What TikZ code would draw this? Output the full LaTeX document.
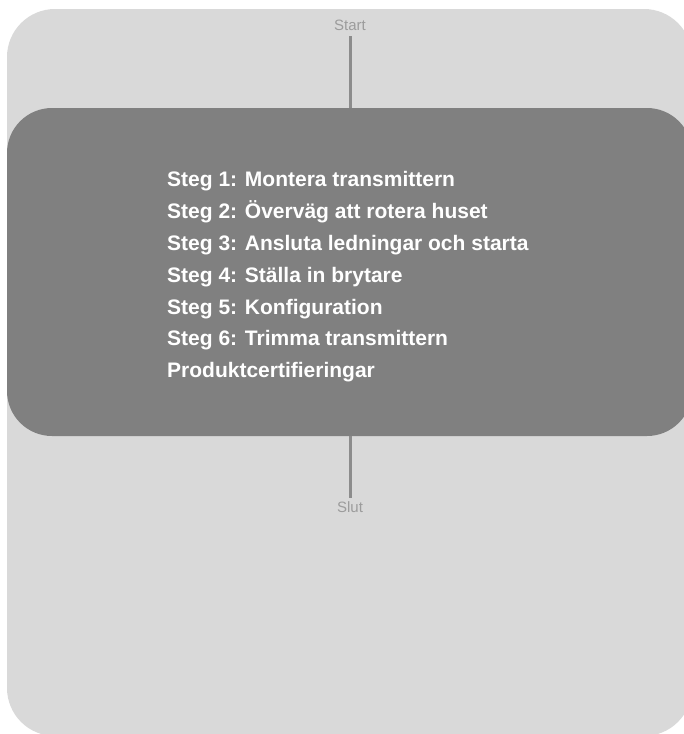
\documentclass[tikz,border=0pt]{standalone}
\usepackage{fontspec}
\setmainfont{Liberation Sans}
\usepackage{tikz}
\definecolor{panel_gray}{HTML}{D9D9D9}
\definecolor{box_gray}{HTML}{808080}
\definecolor{line_gray}{HTML}{8C8C8C}
\definecolor{label_gray}{HTML}{9C9C9C}
\tikzset{
	node_label/.style = {
		inner sep=0pt,
		anchor=base,
		text=label_gray,
		font=\fontsize{15}{18}\selectfont
	},
	node_box/.style = {
		rectangle,
		rounded corners=45pt,
		fill=box_gray,
		minimum width=685pt,
		minimum height=328pt,
		inner sep=0pt
	},
	node_list/.style = {
		align=left,
		inner sep=0pt,
		anchor=west,
		text=white,
		font=\fontsize{21}{31.8}\selectfont\bfseries
	},
	edge_line/.style = {
		draw=line_gray,
		line width=3pt
	},
}

\begin{document}
\begin{tikzpicture}[x=1pt,y=-1pt]
\useasboundingbox (0,0) rectangle (684,734);
% background panel
\fill [panel_gray, rounded corners=48pt] (7,9) rectangle (692,736);

\node [node_box] (steps) at (349.5,272) {};
\node [node_list] (list) at (167,277) {
	Steg 1: Montera transmittern\\
	Steg 2: Överväg att rotera huset\\
	Steg 3: Ansluta ledningar och starta\\
	Steg 4: Ställa in brytare\\
	Steg 5: Konfiguration\\
	Steg 6: Trimma transmittern\\
	Produktcertifieringar
};

\node [node_label] (start) at (350,30) {Start};
\node [node_label] (slut) at (350,512) {Slut};

\draw [edge_line, shorten <=6pt] (start.south) -- (start.south |- steps.north);
\draw [edge_line, shorten <=3.4pt] (slut.north) -- (slut.north |- steps.south);
\end{tikzpicture}
\end{document}
